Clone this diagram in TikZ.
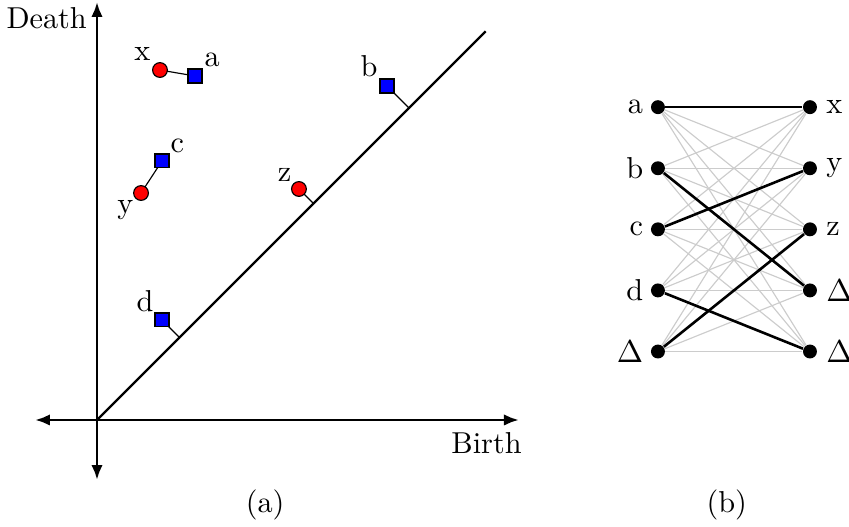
\documentclass[tikz,border=0pt]{standalone}
\usepackage{tikz}
\usetikzlibrary{calc,arrows.meta}

\begin{document}
\begin{tikzpicture}[
  every node/.style={font=\fontsize{10.5pt}{12.6pt}\selectfont},
  sq/.style={draw,fill=blue,minimum size=0.17cm,inner sep=0pt},
  cir/.style={draw,fill=red,circle,minimum size=0.18cm,inner sep=0pt},
  dot/.style={fill=black,circle,minimum size=0.17cm,inner sep=0pt},
  >={Latex[length=5.2pt,width=4pt]}]
\useasboundingbox (-1.183,-1.293) rectangle (9.171,5.122);
% diagram
\draw[line width=1pt,<->] (-0.756,0) -- (5.146,0);
\draw[line width=1pt,<->] (0,-0.732) -- (0,5.098);
\draw[line width=0.8pt] (0,0) -- (4.74,4.74);
\node[left] (death) at (0,4.9) {Death};
\node (birth) at (4.75,-0.28) {Birth};
\coordinate (bd) at (3.805,3.805);
\coordinate (zd) at (2.64,2.64);
\coordinate (dd) at (1.006,1.006);
\draw (3.537,4.073) -- (bd);
\draw (2.463,2.817) -- (zd);
\draw (0.793,1.220) -- (dd);
\draw (0.768,4.268) -- (1.195,4.195);
\draw (0.537,2.768) -- (0.793,3.159);
\node[cir,label={[label distance=-3pt]above left:x}] (x) at (0.768,4.268) {};
\node[sq,label={[label distance=-4pt]above right:a}] (a) at (1.195,4.195) {};
\node[sq,label={[label distance=-4.5pt]above right:c}] (c) at (0.793,3.159) {};
\node[cir,label={[label distance=-4pt]below left:y}] (y) at (0.537,2.768) {};
\node[cir,label={[label distance=-4pt]above left:z}] (z) at (2.463,2.817) {};
\node[sq,label={[label distance=-4pt]above left:b}] (b) at (3.537,4.073) {};
\node[sq,label={[label distance=-4.5pt]above left:d}] (d) at (0.793,1.220) {};
\node (capa) at (2.05,-1.04) {(a)};

% matching
\foreach \t [count=\i] in {a,b,c,d,$\Delta$}
  \node[dot,label={[label distance=-1pt]left:\t}] (L\i) at (6.841,{3.815-0.745*(\i-1)}) {};
\foreach \t [count=\i] in {x,y,z,$\Delta$,$\Delta$}
  \node[dot,label={[label distance=-0.5pt]right:\t}] (R\i) at (8.695,{3.815-0.745*(\i-1)}) {};
\foreach \i in {1,...,5}
  \foreach \j in {1,...,5}
    \draw[gray!40] (L\i) -- (R\j);
\foreach \i/\j in {1/1,2/4,3/2,4/5,5/3}
  \draw[line width=0.9pt] (L\i) -- (R\j);
\node (capb) at (7.68,-1.04) {(b)};
\end{tikzpicture}
\end{document}
